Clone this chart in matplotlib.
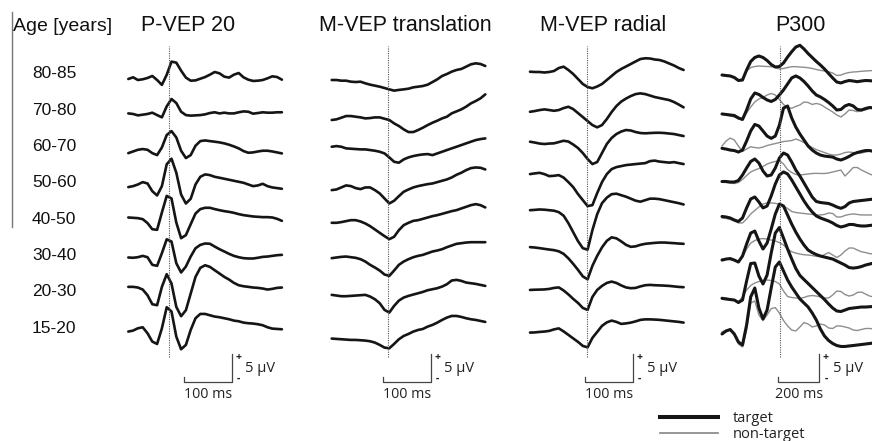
import numpy as np
import matplotlib
matplotlib.use("Agg")
import matplotlib.pyplot as plt
from matplotlib.lines import Line2D

# ---------------------------------------------------------------- data
age_groups = ["80-85", "70-80", "60-70", "50-60", "40-50", "30-40", "20-30", "15-20"]
panel_titles = ["P-VEP 20", "M-VEP translation", "M-VEP radial", "P300"]
legend_labels = ["target", "non-target"]

# sampling grids (ms from start of each trace)
t_vep = np.arange(0, 321, 10)      # 33 samples
t_p300 = np.arange(0, 741, 20)     # 38 samples

# P-VEP 20 (uV relative to row line)
pvep_80_85 = [-1.25, -0.95, -1.43, -1.3, -1.07, -0.71, -1.43, -2.3, -0.5, 1.85, 1.67, 0.24, -1.0, -1.55, -1.5, -1.2, -0.9, -0.48, 0.0, -0.24, -0.83, -1.0, -0.48, -0.18, -0.95, -1.37, -1.6, -1.55, -1.43, -1.13, -0.77, -0.9, -1.37]
pvep_70_80 = [-0.9, -1.0, -1.25, -1.13, -1.0, -0.77, -1.2, -1.6, 0.36, 1.67, 0.95, -0.6, -1.2, -1.3, -1.25, -1.2, -1.07, -0.83, -0.7, -0.9, -0.77, -0.9, -0.9, -0.7, -0.54, -0.6, -0.95, -0.83, -0.7, -0.77, -0.77, -0.7, -0.7]
pvep_60_70 = [-1.5, -1.2, -0.9, -0.77, -0.9, -1.5, -1.85, -0.48, 1.73, 2.44, 1.3, -1.07, -2.38, -1.85, -0.18, 0.65, 0.77, 0.65, 0.54, 0.42, 0.24, 0.0, -0.3, -0.65, -1.13, -1.43, -1.37, -1.2, -1.07, -1.07, -1.2, -1.37, -1.55]
pvep_50_60 = [-1.07, -0.9, -0.6, -0.18, -0.42, -1.8, -2.56, -0.9, 3.0, 4.0, 1.5, -2.4, -4.0, -3.15, -0.6, 0.77, 1.2, 1.07, 0.77, 0.6, 0.42, 0.24, 0.06, -0.12, -0.3, -0.6, -0.9, -0.77, -0.48, -0.9, -1.13, -1.25, -1.37]
pvep_40_50 = [0.0, -0.06, -0.12, -0.3, -1.0, -2.1, -2.2, 0.9, 3.85, 3.4, -0.9, -3.7, -3.15, -1.2, 0.7, 1.5, 1.73, 1.73, 1.5, 1.3, 1.13, 1.0, 0.83, 0.6, 0.42, 0.3, 0.18, 0.12, 0.06, 0.06, 0.0, -0.24, -0.6]
pvep_30_40 = [-0.65, -0.7, -0.6, -0.36, -0.6, -1.96, -2.14, 0.12, 2.6, 2.2, -1.67, -3.33, -2.26, -0.48, 1.0, 1.6, 1.85, 1.8, 1.3, 0.83, 0.42, 0.0, -0.36, -0.6, -0.77, -0.83, -0.83, -0.7, -0.54, -0.48, -0.36, -0.24, -0.18]
pvep_20_30 = [0.6, 0.6, 0.48, 0.12, -0.89, -2.5, -2.68, 0.6, 2.86, 1.19, -2.98, -4.64, -3.57, -0.6, 2.38, 3.99, 4.46, 4.17, 3.57, 2.98, 2.38, 1.9, 1.31, 0.89, 0.71, 0.6, 0.48, 0.42, 0.3, 0.12, 0.24, 0.42, 0.48]
pvep_15_20 = [-0.89, -0.71, -0.3, -0.12, -1.19, -2.68, -3.1, -0.3, 3.45, 2.7, -1.79, -4.05, -3.27, -0.6, 1.49, 2.26, 2.26, 2.02, 1.79, 1.67, 1.49, 1.31, 1.07, 0.95, 0.71, 0.6, 0.54, 0.42, 0.24, -0.12, -0.36, -0.42, -0.48]

# M-VEP translation
mtr_80_85 = [-1.43, -1.43, -1.55, -1.55, -1.73, -1.79, -1.73, -2.02, -2.26, -2.44, -2.62, -2.86, -3.1, -3.33, -3.2, -3.1, -2.98, -2.74, -2.62, -2.5, -2.26, -1.79, -1.31, -0.71, -0.36, 0.06, 0.36, 0.54, 0.95, 1.37, 1.55, 1.43, 1.07]
mtr_70_80 = [-2.08, -1.96, -1.67, -1.37, -1.37, -1.49, -1.61, -1.79, -1.73, -1.61, -1.61, -1.85, -2.08, -2.68, -3.15, -3.75, -4.23, -4.23, -3.87, -3.45, -2.98, -2.56, -2.2, -1.79, -1.49, -0.89, -0.54, -0.18, 0.3, 0.89, 1.31, 1.79, 2.5]
mtr_60_70 = [-0.36, -0.24, -0.36, -0.65, -0.71, -0.77, -0.83, -0.83, -0.95, -1.07, -1.25, -1.55, -2.26, -3.04, -3.21, -2.62, -2.26, -2.02, -1.85, -1.73, -1.67, -1.85, -1.55, -1.25, -0.95, -0.65, -0.36, -0.06, 0.24, 0.54, 0.83, 1.01, 1.13]
mtr_50_60 = [-1.61, -1.49, -1.13, -0.77, -0.89, -1.25, -1.43, -1.13, -1.13, -1.61, -2.2, -3.1, -3.99, -3.51, -2.68, -1.9, -1.49, -1.13, -0.89, -0.71, -0.54, -0.42, -0.18, 0.06, 0.3, 0.65, 1.13, 1.49, 1.96, 2.32, 2.44, 2.38, 2.08]
mtr_40_50 = [-0.95, -0.95, -0.83, -0.65, -0.48, -0.48, -0.71, -1.07, -1.55, -2.14, -2.74, -3.33, -3.87, -3.45, -2.26, -1.37, -0.95, -0.6, -0.48, -0.24, 0.0, 0.24, 0.42, 0.65, 0.89, 1.13, 1.31, 1.61, 1.9, 2.2, 2.38, 2.2, 1.79]
mtr_30_40 = [-0.77, -0.65, -0.54, -0.48, -0.6, -0.71, -0.95, -1.37, -1.96, -2.44, -2.98, -3.69, -3.93, -2.98, -1.96, -1.37, -0.95, -0.6, -0.36, -0.18, 0.12, 0.42, 0.6, 0.83, 1.19, 1.49, 1.79, 1.9, 2.02, 2.08, 2.08, 2.08, 2.08]
mtr_20_30 = [-0.83, -0.95, -1.07, -1.07, -1.01, -0.95, -0.89, -0.83, -1.13, -1.61, -2.32, -3.51, -3.99, -2.8, -1.85, -1.31, -1.01, -0.77, -0.54, -0.3, 0.0, 0.18, 0.36, 0.65, 1.07, 1.73, 1.85, 1.67, 1.37, 1.25, 1.13, 0.95, 0.77]
mtr_15_20 = [-2.14, -2.2, -2.26, -2.32, -2.38, -2.38, -2.44, -2.5, -2.62, -2.86, -3.27, -3.75, -3.87, -3.1, -2.26, -1.67, -1.31, -0.89, -0.6, -0.42, 0.0, 0.3, 0.71, 1.19, 1.61, 1.9, 1.9, 1.73, 1.49, 1.31, 1.19, 1.01, 0.83]

# M-VEP radial
mrad_80_85 = [0.05, 0.0, 0.0, -0.09, 0.0, 0.18, 0.71, 0.95, 0.36, -0.36, -1.25, -2.14, -2.68, -2.91, -2.59, -2.14, -1.43, -0.71, 0.0, 0.54, 0.98, 1.43, 1.88, 2.32, 2.45, 2.41, 2.23, 2.14, 1.88, 1.52, 1.16, 0.71, 0.36]
mrad_70_80 = [-0.61, -0.48, -0.3, -0.18, -0.3, -0.43, -0.3, 0.05, 0.29, -0.13, -0.84, -1.55, -2.27, -2.98, -3.39, -2.98, -1.91, -0.66, 0.41, 1.21, 1.75, 2.2, 2.55, 2.68, 2.55, 2.29, 2.02, 1.84, 1.66, 1.48, 1.13, 0.68, 0.18]
mrad_60_70 = [0.54, 0.39, 0.21, 0.13, 0.21, 0.25, 0.48, 0.71, 0.57, 0.04, -0.59, -1.48, -2.55, -3.45, -3.09, -1.48, 0.13, 1.2, 1.91, 2.36, 2.63, 2.54, 2.27, 2.09, 2.04, 2.09, 2.13, 2.14, 2.09, 2.0, 1.91, 1.73, 1.55]
mrad_50_60 = [1.25, 1.38, 1.48, 1.25, 0.89, 0.95, 1.07, 0.63, -0.18, -1.07, -2.32, -3.39, -4.46, -4.29, -2.14, -0.18, 1.25, 2.14, 2.5, 2.68, 2.86, 2.95, 3.04, 3.13, 3.21, 3.57, 3.66, 3.48, 3.39, 3.3, 3.39, 3.21, 3.04]
mrad_40_50 = [1.3, 1.36, 1.43, 1.39, 1.3, 1.21, 0.95, 0.32, -1.02, -2.63, -4.23, -5.48, -5.75, -2.27, 0.59, 2.55, 3.54, 4.16, 4.25, 3.98, 3.71, 3.36, 3.0, 2.82, 3.09, 3.36, 3.36, 3.27, 3.09, 2.91, 2.73, 2.55, 2.32]
mrad_30_40 = [1.2, 1.13, 1.02, 0.89, 0.77, 0.66, 0.45, 0.0, -0.8, -1.79, -2.86, -4.02, -4.55, -2.14, -0.36, 1.16, 2.32, 2.95, 2.77, 2.23, 1.61, 1.25, 1.34, 1.61, 1.79, 1.88, 1.96, 2.02, 2.02, 1.96, 1.91, 1.84, 1.79]
mrad_20_30 = [0.05, 0.09, 0.11, 0.14, 0.23, 0.41, 0.5, -0.04, -0.75, -1.55, -2.27, -3.16, -3.52, -1.2, 0.05, 0.77, 1.3, 1.54, 1.3, 0.86, 0.5, 0.36, 0.41, 0.68, 0.89, 0.95, 0.89, 0.86, 0.82, 0.77, 0.68, 0.59, 0.54]
mrad_15_20 = [-1.07, -1.04, -0.95, -0.89, -0.77, -0.5, -0.32, -0.86, -1.48, -2.11, -2.73, -3.45, -3.71, -2.02, -0.95, 0.13, 0.75, 1.07, 0.84, 0.48, 0.57, 0.71, 0.93, 1.2, 1.29, 1.29, 1.25, 1.2, 1.11, 1.02, 0.93, 0.84, 0.71]

# P300 target
p300t_80_85 = [-0.54, -0.63, -0.71, -0.98, -1.52, -1.43, 0.36, 1.88, 2.59, 2.86, 2.59, 2.05, 1.34, 0.89, 0.98, 1.61, 2.68, 3.62, 4.46, 4.77, 4.11, 3.3, 2.59, 1.88, 1.25, 0.54, -0.27, -1.07, -1.79, -1.96, -1.7, -1.52, -1.61, -1.73, -1.61, -1.52, -1.55, -1.61]
p300t_70_80 = [-1.0, -1.09, -1.18, -1.27, -1.71, -1.98, -0.29, 1.68, 2.75, 2.48, 1.95, 1.5, 1.23, 1.59, 2.39, 3.29, 4.36, 5.43, 5.79, 5.43, 4.8, 4.0, 3.11, 2.39, 2.04, 1.59, 1.05, 0.43, -0.29, -0.2, 0.43, 0.7, 0.43, -0.2, -0.29, -0.02, 0.16, 0.07]
p300t_60_70 = [-0.64, -0.77, -0.95, -1.04, -1.3, -0.95, 0.66, 2.45, 3.63, 3.34, 2.45, 1.55, 1.14, 1.55, 3.52, 6.55, 6.91, 4.77, 3.16, 1.91, 0.84, -0.23, -0.95, -1.48, -1.84, -2.02, -2.11, -2.2, -2.55, -2.73, -2.45, -2.09, -1.66, -1.39, -1.2, -1.04, -1.04, -1.2]
p300t_50_60 = [-0.07, -0.07, -0.16, -0.16, 0.11, 1.09, 2.34, 3.5, 3.95, 3.23, 1.8, 0.91, 1.09, 2.34, 4.13, 5.02, 4.66, 3.41, 1.98, 0.91, -0.34, -1.59, -2.84, -3.64, -3.82, -3.91, -4.0, -4.27, -4.62, -4.86, -4.55, -3.91, -3.64, -3.55, -3.46, -3.38, -3.29, -3.2]
p300t_40_50 = [0.18, 0.09, -0.09, -0.45, -0.71, -0.09, 1.7, 3.3, 3.66, 2.77, 1.7, 2.05, 3.84, 5.98, 7.59, 8.13, 7.77, 6.7, 5.45, 4.2, 2.95, 1.88, 0.98, 0.27, -0.09, -0.36, -0.63, -0.98, -1.43, -1.7, -1.52, -1.25, -1.25, -1.43, -1.52, -1.52, -1.43, -1.34]
p300t_30_40 = [-1.11, -0.93, -0.84, -1.11, -1.46, -0.39, 1.75, 3.71, 4.07, 2.29, 0.86, 1.93, 4.43, 7.11, 8.89, 8.54, 6.93, 5.32, 3.89, 2.64, 1.57, 0.68, 0.23, -0.13, -0.39, -0.57, -0.75, -0.93, -1.29, -1.64, -2.0, -2.45, -2.54, -2.45, -2.27, -2.0, -1.82, -1.64]
p300t_20_30 = [-1.45, -1.57, -1.66, -1.75, -2.2, -1.75, 1.64, 4.77, 4.86, 2.54, 1.11, 2.71, 6.64, 10.21, 11.2, 9.32, 7.36, 5.57, 3.89, 2.64, 1.91, 1.2, 0.48, -0.23, -0.95, -1.66, -2.46, -3.18, -3.71, -3.8, -3.54, -3.27, -3.18, -3.09, -3.0, -3.0, -2.95, -2.9]
p300t_15_20 = [-1.32, -0.79, -0.52, -1.32, -2.75, -3.29, 0.29, 5.29, 6.89, 3.32, 1.36, 2.96, 6.89, 10.64, 11.54, 9.93, 8.32, 7.07, 6.0, 4.93, 4.21, 3.5, 2.43, 1.18, -0.43, -1.68, -2.48, -3.02, -3.38, -3.55, -3.55, -3.46, -3.38, -3.29, -3.2, -3.11, -3.02, -2.93]

# P300 non-target
p300n_80_85 = [-0.45, -0.54, -0.63, -0.89, -1.43, -1.25, 0.18, 0.8, 0.98, 1.07, 1.02, 0.98, 0.95, 0.8, 0.54, 0.63, 0.8, 0.95, 0.95, 0.89, 0.84, 0.77, 0.63, 0.45, 0.3, 0.18, 0.05, -0.18, -0.63, -0.54, -0.27, -0.09, 0.0, 0.05, 0.13, 0.18, 0.23, 0.27]
p300n_70_80 = [-1.0, -1.18, -1.36, -1.54, -1.89, -2.07, -0.82, 0.25, 1.14, 1.68, 1.95, 2.39, 2.66, 2.39, 1.59, 0.7, 0.16, 0.02, 0.34, 0.61, 1.14, 1.05, 0.7, 0.88, 0.7, 0.25, -0.2, -0.64, -1.18, -1.54, -1.0, -0.29, -0.38, -0.59, -0.46, -0.29, -0.02, 0.02]
p300n_60_70 = [-0.23, 0.66, 1.2, 0.84, -0.23, -1.21, -0.77, -0.36, -0.5, -0.59, -0.41, -0.14, 0.04, 0.21, 0.39, 0.57, 0.66, 0.75, 1.02, 0.75, 0.39, -0.05, -0.5, -0.86, -1.13, -1.39, -1.66, -1.84, -1.84, -1.66, -1.39, -1.3, -1.39, -1.48, -1.48, -1.3, -1.13, -1.04]
p300n_50_60 = [-0.16, -0.25, -0.34, -0.43, -0.25, 0.29, 1.0, 1.63, 1.98, 2.25, 2.61, 3.05, 3.32, 3.5, 3.68, 3.05, 2.07, 1.54, 1.18, 1.09, 1.18, 1.27, 1.36, 1.39, 1.36, 1.36, 1.45, 1.63, 1.8, 1.98, 0.91, 1.63, 2.43, 2.43, 1.98, 1.63, 1.27, 1.0]
p300n_40_50 = [-0.09, -0.18, -0.36, -0.63, -0.98, -0.98, -0.27, 0.63, 1.25, 1.88, 2.41, 2.59, 2.59, 2.54, 2.32, 2.05, 1.61, 1.07, 0.89, 0.8, 0.71, 0.63, 0.54, 0.45, 0.45, 0.54, 0.8, 0.71, 0.09, 0.09, 0.36, 0.54, 0.63, 0.54, 0.45, 0.45, 0.45, 0.45]
p300n_30_40 = [-0.93, -0.93, -1.02, -1.2, -1.38, -0.57, 0.86, 1.93, 2.38, 2.64, 2.73, 2.64, 2.46, 2.29, 2.02, 1.57, 0.86, 0.38, 0.14, -0.04, -0.16, -0.21, -0.3, -0.45, -0.48, -0.13, 0.23, -0.21, -0.66, -0.21, 0.5, 1.04, 1.04, 0.68, 0.38, 0.23, 0.05, -0.04]
p300n_20_30 = [-1.3, -1.39, -1.57, -1.75, -2.02, -1.21, 0.04, 0.84, 1.29, 1.55, 1.73, 1.82, 1.73, 1.55, 1.11, -0.14, -1.13, -1.3, -1.39, -1.45, -1.3, -1.04, -0.95, -1.04, -1.21, -1.39, -1.39, -0.86, -0.14, -0.23, -0.77, -1.04, -0.86, -0.41, -0.32, -0.68, -1.04, -1.21]
p300n_15_20 = [-0.96, -0.61, -0.61, -1.5, -3.11, -3.64, -0.61, 4.21, 4.57, 2.07, 1.09, 2.07, 3.21, 3.39, 2.41, 1.09, 0.11, -0.61, -0.79, -0.07, 0.73, 0.46, -0.07, 0.11, 0.46, 0.29, -0.25, -0.34, 0.11, 0.11, -0.07, -0.25, -0.61, -0.7, -0.52, -0.34, -0.34, -0.43]

pvep = [pvep_80_85, pvep_70_80, pvep_60_70, pvep_50_60, pvep_40_50, pvep_30_40, pvep_20_30, pvep_15_20]
mtr = [mtr_80_85, mtr_70_80, mtr_60_70, mtr_50_60, mtr_40_50, mtr_30_40, mtr_20_30, mtr_15_20]
mrad = [mrad_80_85, mrad_70_80, mrad_60_70, mrad_50_60, mrad_40_50, mrad_30_40, mrad_20_30, mrad_15_20]
p300_target = [p300t_80_85, p300t_70_80, p300t_60_70, p300t_50_60, p300t_40_50, p300t_30_40, p300t_20_30, p300t_15_20]
p300_nontarget = [p300n_80_85, p300n_70_80, p300n_60_70, p300n_50_60, p300n_40_50, p300n_30_40, p300n_20_30, p300n_15_20]

stim_ms = [85, 117, 118, 283]          # dotted reference latency per panel
scale_ms = [100, 100, 100, 200]        # horizontal scale bar length
scale_uv = 5                           # vertical scale bar
scale_start_ms = [116, 106, 115, 275]

# ---------------------------------------------------------------- layout
W, H, DPI = 872, 441, 100
SANS = ["Liberation Sans", "DejaVu Sans"]
HUM = ["Open Sans", "DejaVu Sans"]
ROW0_PY = 72.0
ROW_STEP_PY = 36.37
PX_PER_UV = 5.6
ROW_STEP_UV = ROW_STEP_PY / PX_PER_UV
panel_x0 = [128.3, 331.7, 530.0, 722.0]
panel_px_per_ms = [0.48, 0.48, 0.48, 0.205]
title_cx = [188.5, 405.0, 603.5, 800.0]

fig = plt.figure(figsize=(W / DPI, H / DPI), dpi=DPI)
fig.patch.set_facecolor("white")


def fx(px):
    return px / W


def fy(py):
    return 1 - py / H


def uv(py):
    return (ROW0_PY - py) / PX_PER_UV


axes = []
for p in range(4):
    ax = fig.add_axes([0, 0, 1, 1])
    ax.set_axis_off()
    ax.patch.set_alpha(0)
    x0, s = panel_x0[p], panel_px_per_ms[p]
    ax.set_xlim(-x0 / s, (W - x0) / s)
    ax.set_ylim(uv(H), uv(0))
    axes.append(ax)

TRACE = "#151515"
for ax, traces in zip(axes[:3], [pvep, mtr, mrad]):
    for i, tr in enumerate(traces):
        ax.plot(t_vep, np.asarray(tr) - i * ROW_STEP_UV, color=TRACE, lw=1.9,
                solid_joinstyle="round", solid_capstyle="round")

ax = axes[3]
for i, tr in enumerate(p300_nontarget):
    ax.plot(t_p300, np.asarray(tr) - i * ROW_STEP_UV, color="#8e8e8e", lw=1.0,
            solid_joinstyle="round")
for i, tr in enumerate(p300_target):
    ax.plot(t_p300, np.asarray(tr) - i * ROW_STEP_UV, color=TRACE, lw=2.2,
            solid_joinstyle="round", solid_capstyle="round")

for p, ax in enumerate(axes):
    ax.vlines(stim_ms[p], uv(357), uv(46), colors="#555555",
              linestyles=(0, (1, 1.1)), lw=0.8)
    # scale bar
    t0, L = scale_start_ms[p], scale_ms[p]
    yb = uv(382)
    ax.plot([t0, t0, t0 + L, t0 + L], [yb + 0.9, yb, yb, yb + scale_uv],
            color="#444444", lw=0.9)
    s = panel_px_per_ms[p]
    right_px = panel_x0[p] + (t0 + L) * s
    mid_px = panel_x0[p] + (t0 + L / 2) * s
    fig.text(fx(right_px + 6.5), fy(357.5), "+", fontsize=7.5, ha="center",
             va="center", family=HUM, color="#222", fontweight="bold")
    fig.text(fx(right_px + 6.5), fy(378.5), "-", fontsize=7.5, ha="center",
             va="center", family=HUM, color="#222", fontweight="bold")
    fig.text(fx(right_px + 13.5), fy(372.5), f"{scale_uv} \u03bcV", fontsize=10.5,
             ha="left", va="baseline", family=HUM, color="#222")
    fig.text(fx(mid_px), fy(398.5), f"{scale_ms[p]} ms", fontsize=10.3,
             ha="center", va="baseline", family=HUM, color="#222")
    fig.text(fx(title_cx[p]), fy(30.7), panel_titles[p], fontsize=15.5,
             ha="center", va="baseline", family=SANS, color="#111")

fig.text(fx(12.5), fy(30.7), "Age [years]", fontsize=14, ha="left",
         va="baseline", family=SANS, color="#111")
for i, lab in enumerate(age_groups):
    fig.text(fx(32), fy(ROW0_PY + i * ROW_STEP_PY + 6.2), lab, fontsize=12.5,
             ha="left", va="baseline", family=SANS, color="#111")

fig.add_artist(Line2D([fx(12), fx(12)], [fy(12), fy(227)], color="#777777", lw=1.0))

# legend
fig.add_artist(Line2D([fx(660), fx(718)], [fy(416.5), fy(416.5)], color=TRACE, lw=2.9))
fig.add_artist(Line2D([fx(660), fx(718)], [fy(433), fy(433)], color="#8e8e8e", lw=1.3))
fig.text(fx(733), fy(421.5), legend_labels[0], fontsize=10.5, ha="left",
         va="baseline", family=HUM, color="#222")
fig.text(fx(733), fy(437.5), legend_labels[1], fontsize=10.5, ha="left",
         va="baseline", family=HUM, color="#222")

fig.savefig("out.png", dpi=DPI, facecolor="white")
